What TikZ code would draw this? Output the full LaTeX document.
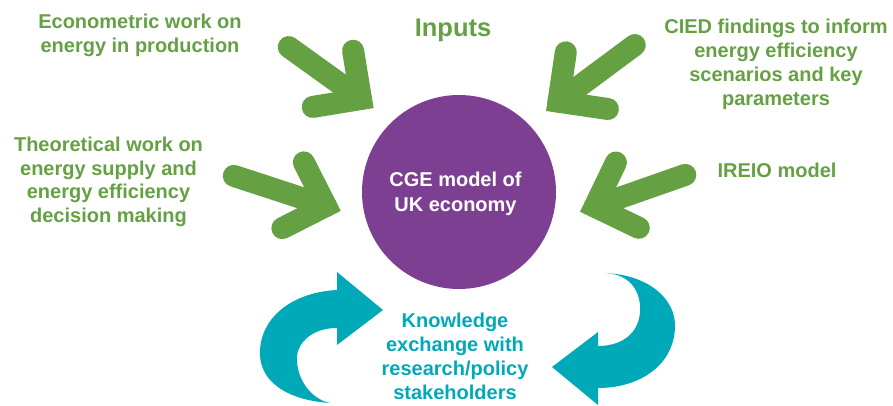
\documentclass[tikz,border=0pt]{standalone}
\usepackage{fontspec}
\setmainfont{Liberation Sans}
\definecolor{igreen}{RGB}{101,160,67}
\definecolor{iteal}{RGB}{0,169,184}
\definecolor{ipurple}{RGB}{125,63,145}
\tikzset{
  garrowline/.style={draw=igreen,line width=22pt,line cap=round,line join=miter},
  pics/garrow/.style args={#1/#2}{code={
    \draw[garrowline] (-#1,0) -- (0,0);
    \draw[garrowline] (-#2,#2) -- (0,0) -- (-#2,-#2);
  }},
  lbl/.style={font=\fontsize{20}{24}\selectfont\bfseries,align=center,inner sep=0pt,anchor=base},
  glbl/.style={lbl,text=igreen},
}
\begin{document}
\begin{tikzpicture}[x=1pt,y=-1pt]
\useasboundingbox (0,0) rectangle (893,405);
% central circle
\node[circle,fill=ipurple,minimum size=194pt,inner sep=0pt] (cge) at (459,192) {};
\node[lbl,text=white,font=\fontsize{20}{25}\selectfont\bfseries] (cgetext) at (455.5,211.7) {CGE model of\\UK economy};
% green input arrows
\pic[rotate=-35.7] (a1) at (361,99) {garrow={89/34.6}};
\pic[rotate=-143.4] (a2) at (558.5,101.7) {garrow={95/35.3}};
\pic[rotate=-18.1] (a3) at (326,206) {garrow={97/34.6}};
\pic[rotate=-160.7] (a4) at (594.7,206.6) {garrow={96/34.6}};
% labels (anchor=base is the baseline of the last line)
\node[glbl,font=\fontsize{25.5}{30}\selectfont\bfseries] (inputs) at (453,36.7) {Inputs};
\node[glbl] (econ) at (140,52) {Econometric work on\\energy in production};
\node[glbl] (cied) at (776,105.5) {CIED findings to inform\\energy efficiency\\scenarios and key\\parameters};
\node[glbl,font=\fontsize{20}{23.6}\selectfont\bfseries] (theo) at (108.5,222.5) {Theoretical work on\\energy supply and\\energy efficiency\\decision making};
\node[glbl] (ireio) at (777,177) {IREIO model};
\node[lbl,text=iteal] (ke) at (455,399) {Knowledge\\exchange with\\research/policy\\stakeholders};
% teal curved arrows
\fill[iteal] (330,403) .. controls (285,400) and (258,380) .. (260,350)
  .. controls (262,315) and (295,292) .. (337,290) -- (337,272) -- (383,310)
  -- (337,345) -- (337,328) .. controls (310,328) and (295,345) .. (297,362)
  .. controls (299,385) and (315,400) .. (330,403) -- cycle;
\fill[iteal] (605,273) .. controls (650,275) and (676,300) .. (675,327)
  .. controls (674,365) and (640,388) .. (598,388) -- (598,405) -- (552,367)
  -- (598,332) -- (598,346) .. controls (625,346) and (642,330) .. (640,305)
  .. controls (638,285) and (625,274) .. (605,273) -- cycle;
\end{tikzpicture}
\end{document}
